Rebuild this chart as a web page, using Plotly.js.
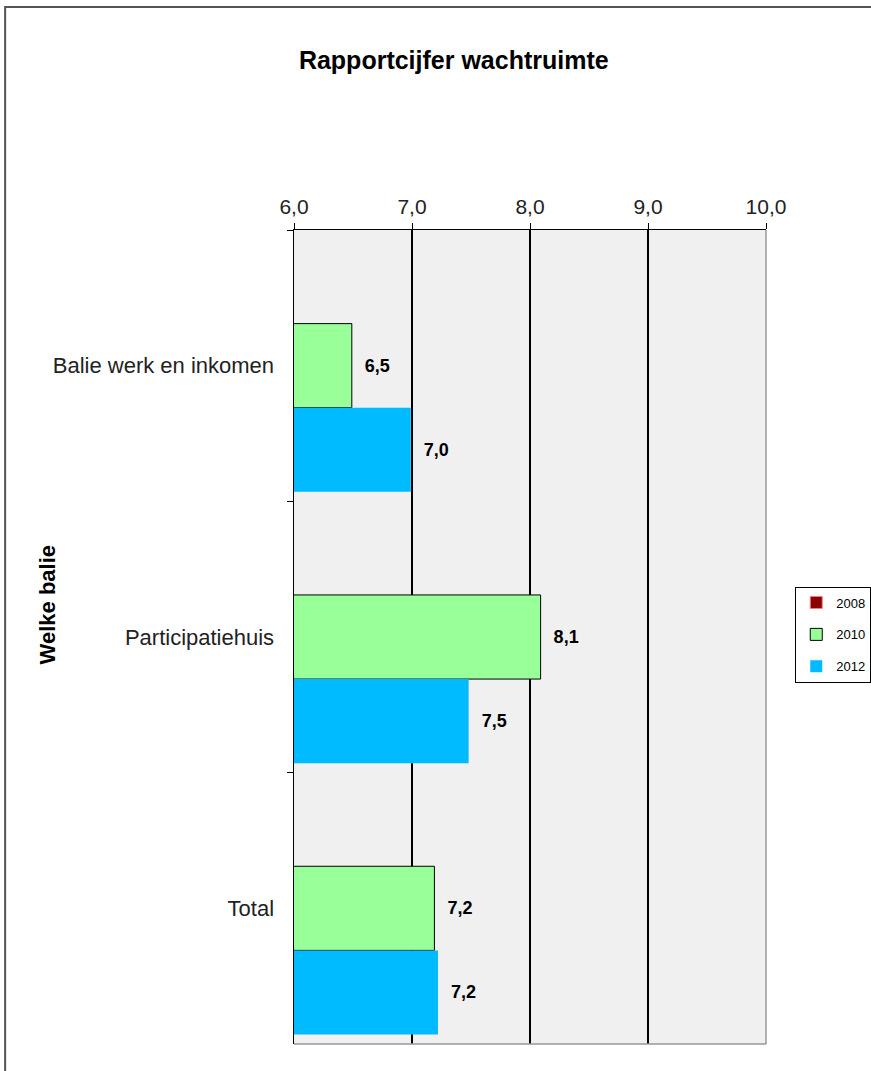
<!DOCTYPE html>
<html>
<head>
<meta charset="utf-8">
<script src="https://cdn.plot.ly/plotly-3.0.1.min.js"></script>
<style>
html,body{margin:0;padding:0;background:#fff;}
#chart{width:871px;height:1071px;}
</style>
</head>
<body>
<div id="chart"></div>
<script>
const categories = ["Balie werk en inkomen", "Participatiehuis", "Total"];
const years = ["2008", "2010", "2012"];
const values2008 = [null, null, null];
const values2010 = [6.49, 8.09, 7.19];
const values2012 = [6.99, 7.48, 7.22];
const labels2010 = ["6,5", "8,1", "7,2"];
const labels2012 = ["7,0", "7,5", "7,2"];
const xTickVals = [6, 7, 8, 9, 10];
const xTickText = ["6,0", "7,0", "8,0", "9,0", "10,0"];

const FONT = "Liberation Sans, Arial, sans-serif";
const pad = s => "  " + s;
const labelFont = {family: FONT, size: 18, color: "#000", weight: "bold"};

const traces = [
  {type: "bar", orientation: "h", name: years[0], y: categories, x: values2008,
   marker: {color: "#8b0000", line: {color: "#f08080", width: 1}}, legendgroup: "a"},
  {type: "bar", orientation: "h", name: years[1], y: categories, x: values2010,
   marker: {color: "#99ff99", line: {color: "#000", width: 1}},
   text: labels2010.map(pad), textposition: "outside", textfont: labelFont, cliponaxis: false,
   legendgroup: "b"},
  {type: "bar", orientation: "h", name: years[2], y: categories, x: values2012,
   marker: {color: "#00bbff", line: {width: 0}},
   text: labels2012.map(pad), textposition: "outside", textfont: labelFont, cliponaxis: false,
   legendgroup: "c"}
];

const layout = {
  width: 871, height: 1071,
  margin: {l: 294, r: 105, t: 230, b: 27, autoexpand: false},
  paper_bgcolor: "#fff",
  plot_bgcolor: "#f0f0f0",
  font: {family: FONT, size: 15, color: "#222"},
  barmode: "group",
  bargap: 0.07,
  bargroupgap: 0,
  title: {text: "<b>Rapportcijfer wachtruimte</b>", x: 0.521, xanchor: "center", y: 0.944, yanchor: "middle",
          font: {size: 25, color: "#000"}},
  xaxis: {
    side: "top", range: [6, 10], tickvals: xTickVals, ticktext: xTickText,
    showgrid: true, gridcolor: "#000", gridwidth: 1.2,
    showline: true, linecolor: "#000", linewidth: 1.5,
    ticks: "outside", ticklen: 6, tickcolor: "#000", tickfont: {size: 21, color: "#222"},
    zeroline: false, fixedrange: true, automargin: false
  },
  yaxis: {
    autorange: "reversed", type: "category",
    showline: true, linecolor: "#000", linewidth: 1.5,
    ticks: "outside", tickson: "boundaries", ticklen: 6, tickcolor: "#000",
    tickfont: {size: 22, color: "#222"}, ticklabelstandoff: 14,
    showgrid: false,
    fixedrange: true, automargin: false
  },
  legend: {
    x: 1.062, xanchor: "left", y: 0.562, yanchor: "top",
    bordercolor: "#000", borderwidth: 1, bgcolor: "#fff",
    font: {size: 13, color: "#000"},
    traceorder: "grouped", tracegroupgap: 12,
    itemwidth: 30
  },
  annotations: [
    {text: "<b>Welke balie</b>", xref: "paper", yref: "paper", x: -0.523, y: 0.539,
     textangle: -90, showarrow: false, font: {size: 22, color: "#000"}, xanchor: "center", yanchor: "middle"}
  ],
  shapes: [
    {type: "line", xref: "paper", yref: "paper", x0: 1, x1: 1, y0: 0, y1: 1, line: {color: "#999", width: 1.5}},
    {type: "line", xref: "paper", yref: "paper", x0: 0, x1: 1, y0: 0, y1: 0, line: {color: "#999", width: 1.5}},
    {type: "rect", xref: "paper", yref: "paper", x0: -0.612, x1: 2, y0: -1, y1: 1.274,
     line: {color: "#555", width: 2}, layer: "below"}
  ]
};

Plotly.newPlot("chart", traces, layout, {displayModeBar: false, staticPlot: true});
</script>
</body>
</html>
